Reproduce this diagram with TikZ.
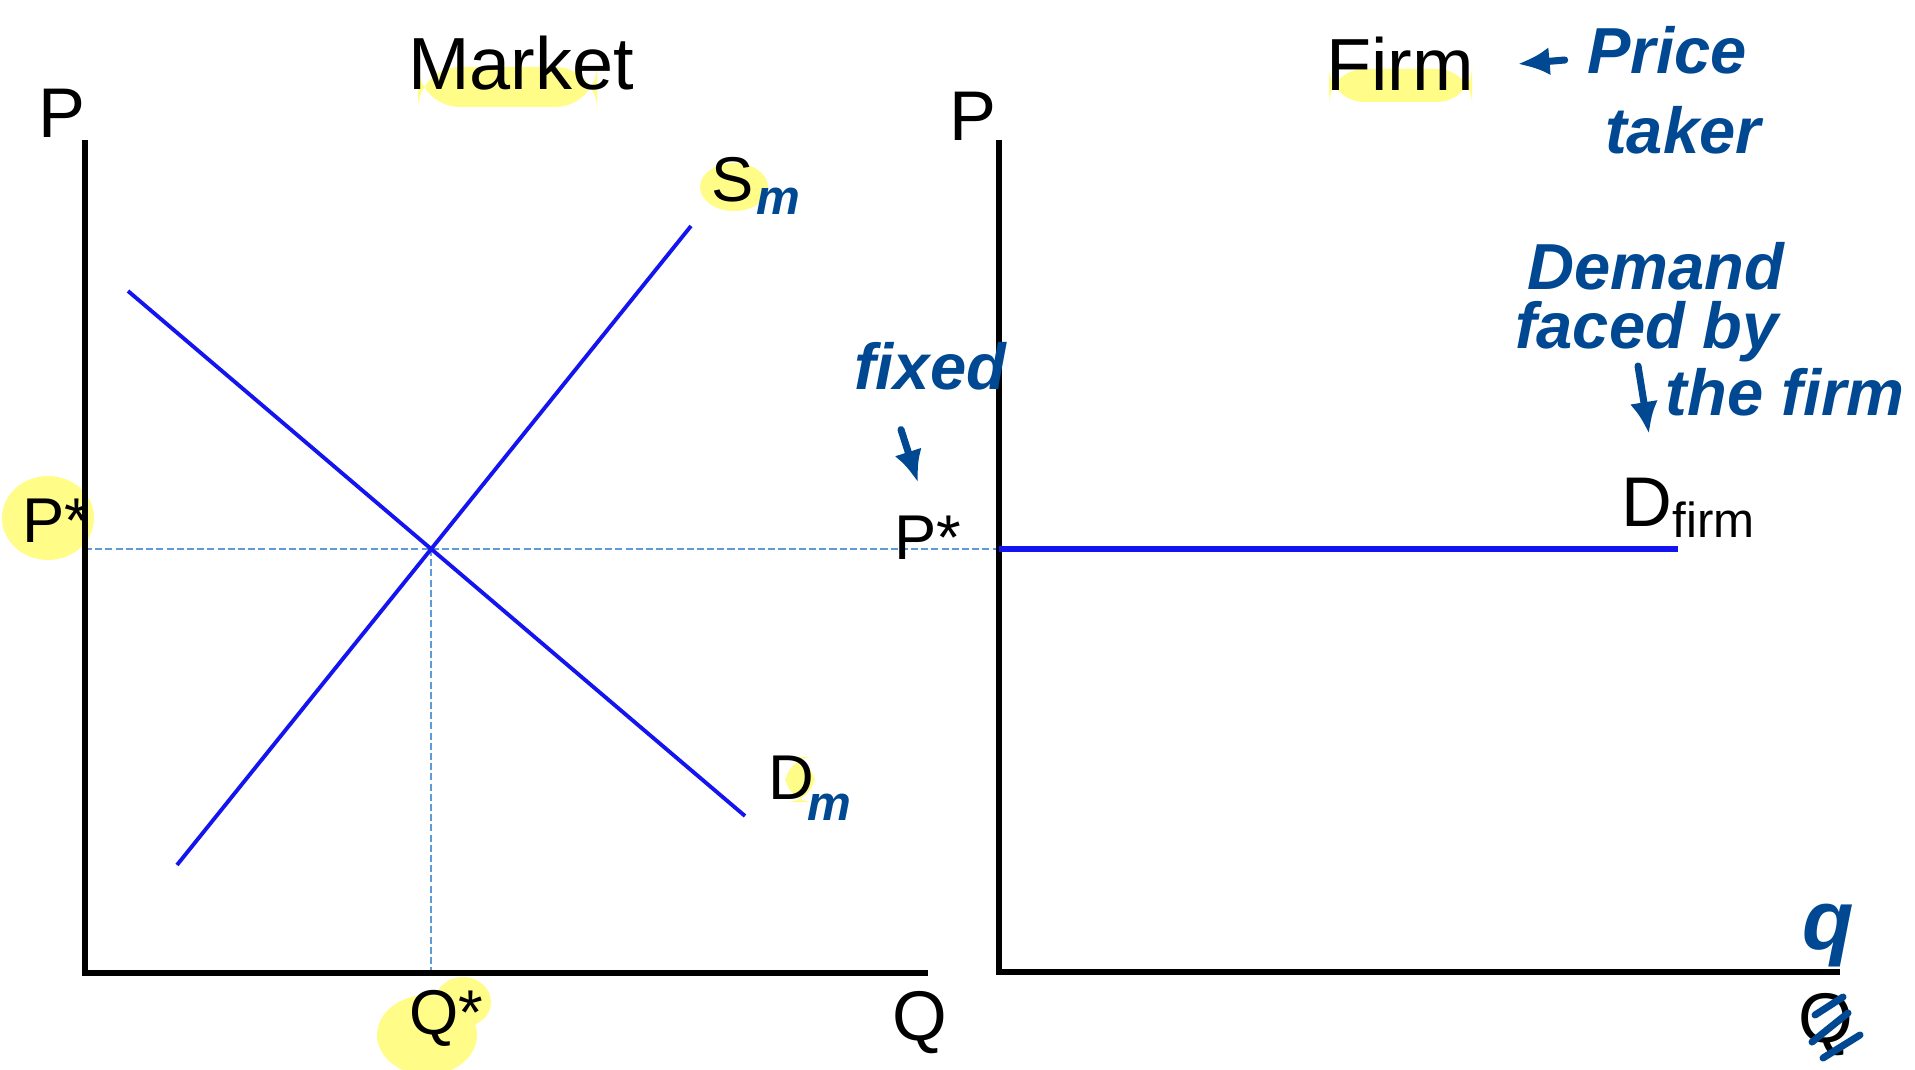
\documentclass[tikz,border=0pt]{standalone}
\usepackage{fontspec}
\setmainfont{Liberation Sans}
\newfontfamily\handfont{Liberation Sans}
\usetikzlibrary{arrows.meta}
\definecolor{crv}{RGB}{20,20,240}
\definecolor{guide}{RGB}{95,155,215}
\definecolor{pen}{RGB}{0,72,145}
\definecolor{hiyel}{RGB}{255,252,135}
\tikzset{
  axis/.style={draw=black, line width=1.7pt},
  curve/.style={draw=crv, line width=1.1pt},
  guideline/.style={draw=guide, line width=0.6pt, dash pattern=on 2pt off 0.9pt},
  ttl/.style={font=\fontsize{21}{25}\selectfont, inner sep=0pt},
  lbl/.style={font=\fontsize{20}{24}\selectfont, inner sep=0pt},
  slbl/.style={font=\fontsize{18}{22}\selectfont, inner sep=0pt},
  hand/.style={text=pen, inner sep=0pt,
    font=\handfont\bfseries\itshape\fontsize{18.5}{22}\selectfont},
  subhand/.style={hand, font=\handfont\bfseries\itshape\fontsize{14}{16}\selectfont},
  harr/.style={-{Latex[length=3.2mm,width=2.8mm]}, draw=pen, line width=2pt, line cap=round},
  stroke/.style={draw=pen, line width=2pt, line cap=round},
  hl/.style={fill=hiyel}
}
\begin{document}
\begin{tikzpicture}[x=0.01cm, y=-0.01cm]
  \useasboundingbox (0,0) rectangle (1915,1070);
  % highlighter marks first, text goes on top
  \fill[hl, rounded corners=12pt] (418,67) rectangle (597,107);
  \fill[hl, rounded corners=10pt] (1329,69) rectangle (1472,102);
  \fill[hl] (734,187) ellipse (34 and 24);
  \fill[hl, rounded corners=8pt] (785,757) rectangle (815,802);
  \fill[hl] (48,518) ellipse (46 and 42);
  \fill[hl] (427,1035) ellipse (50 and 40);
  \fill[hl] (463,1002) ellipse (28 and 25);

  % market panel
  \coordinate (mO) at (85,973);
  \coordinate (mtop) at (85,140);
  \coordinate (mend) at (928,973);
  \coordinate (s0) at (177,865);
  \coordinate (s1) at (691,226);
  \coordinate (d0) at (128,291);
  \coordinate (d1) at (745,816);
  \coordinate (eq) at (intersection of s0--s1 and d0--d1);
  % firm panel
  \coordinate (fO) at (999,972);
  \coordinate (ftop) at (999,140);
  \coordinate (fend) at (1840,972);
  \coordinate (fd1) at (1678,0);

  \draw[guideline] (mO |- eq) -- (fO |- eq);
  \draw[guideline] (eq) -- (eq |- mO);
  \draw[axis] (mtop) -- (mO) -- (mend);
  \draw[axis] (ftop) -- (fO) -- (fend);
  \draw[curve] (s0) -- (s1);
  \draw[curve] (d0) -- (d1);
  \draw[curve, line width=1.5pt] (fO |- eq) -- (fd1 |- eq);

  \node[ttl] (mtitle) at (521,63) {Market};
  \node[ttl] (ftitle) at (1400,64) {Firm};
  \node[lbl] (mp) at (62,113) {P};
  \node[lbl] (fp) at (973,116) {P};
  \node[lbl] (mq) at (920,1023) {Q};
  \node[lbl] (fq) at (1826,1025) {Q};
  \node[slbl] (pstar) at (56,521) {P*};
  \node[slbl] (qstar) at (446,1018) {Q*};
  \node[slbl] (fpstar) at (928,538) {P*};
  \node[slbl] (slab) at (733,180) {S};
  \node[slbl] (dlab) at (791,778) {D};
  \node[lbl] (dfirm) at (1689,508) {D\textsubscript{firm}};

  % pen notes
  \node[subhand] (sm) at (778,201) {m};
  \node[subhand] (dm) at (829,807) {m};
  \node[hand] (fixed) at (930,366) {fixed};
  \node[hand] (price) at (1667,50) {Price};
  \node[hand] (taker) at (1683,130) {taker};
  \node[hand] (dem) at (1656,266) {Demand};
  \node[hand] (faced) at (1647,332) {faced by};
  \node[hand] (thefirm) at (1785,392) {the firm};
  \node[hand, font=\handfont\bfseries\itshape\fontsize{24}{26}\selectfont] (qhand) at (1828,936) {q};
  \draw[harr] ([shift={(-29,39)}]fixed.south) -- ++(17,53);
  \draw[harr] ([xshift=-2.2mm, yshift=-1mm]price.west) -- ([xshift=4.3mm]ftitle.east);
  \draw[harr] ([shift={(-27,-26)}]thefirm.west) -- ++(11,68);
  \draw[stroke] ([shift={(-11,-10)}]fq.center) -- ++(28,-18);
  \draw[stroke] ([shift={(-14,17)}]fq.center) -- ++(36,-29);
  \draw[stroke] ([shift={(-3,33)}]fq.center) -- ++(37,-23);
\end{tikzpicture}
\end{document}
